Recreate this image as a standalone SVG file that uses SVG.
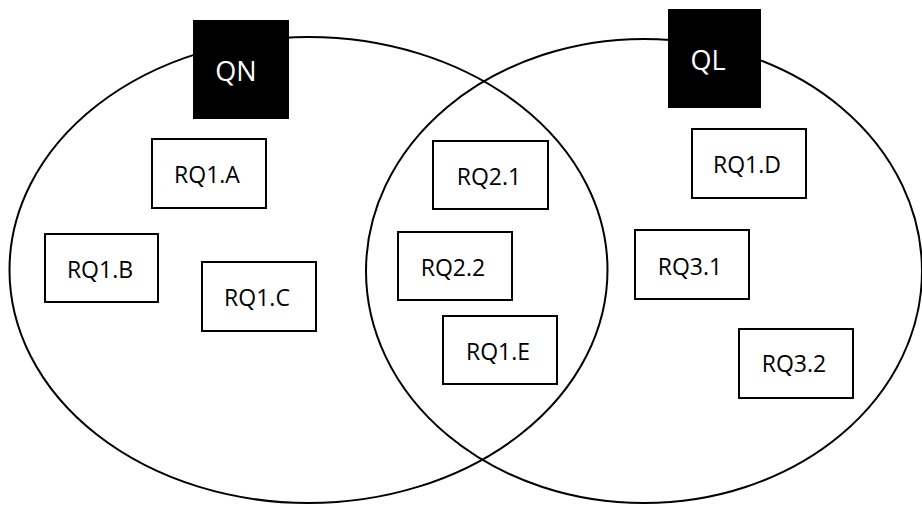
<svg xmlns="http://www.w3.org/2000/svg" width="922" height="505" viewBox="0 0 922 505">
<style>
.set{fill:none;stroke:#000;stroke-width:2}
.tag{fill:#000;stroke:none}
.tagt{fill:#fff;font-family:"Open Sans","Liberation Sans",sans-serif;font-size:27px;text-anchor:middle}
.box{fill:#fff;stroke:#000;stroke-width:2}
.lbl{fill:#000;font-family:"Open Sans","Liberation Sans",sans-serif;font-size:23px;text-anchor:middle}
</style>
<rect width="922" height="505" fill="#fff"/>
<g id="sets">
<ellipse id="set-qn" class="set" cx="308.5" cy="270" rx="299" ry="233"/>
<ellipse id="set-ql" class="set" cx="644" cy="271" rx="278" ry="232"/>
</g>
<g id="qn"><rect class="tag" x="193" y="20" width="96" height="99"/><text class="tagt" x="236" y="81">QN</text></g>
<g id="ql"><rect class="tag" x="668" y="9" width="93" height="99"/><text class="tagt" x="708" y="70">QL</text></g>
<g id="rq1a"><rect class="box" x="152" y="139" width="114" height="69"/><text class="lbl" x="207" y="183">RQ1.A</text></g>
<g id="rq1b"><rect class="box" x="45" y="234" width="113" height="68"/><text class="lbl" x="100" y="278">RQ1.B</text></g>
<g id="rq1c"><rect class="box" x="202" y="262" width="114" height="69"/><text class="lbl" x="257" y="306">RQ1.C</text></g>
<g id="rq21"><rect class="box" x="433" y="141" width="115" height="68"/><text class="lbl" x="489" y="185">RQ2.1</text></g>
<g id="rq22"><rect class="box" x="398" y="232" width="114" height="68"/><text class="lbl" x="453" y="276">RQ2.2</text></g>
<g id="rq1e"><rect class="box" x="443" y="316" width="114" height="68"/><text class="lbl" x="498" y="360">RQ1.E</text></g>
<g id="rq1d"><rect class="box" x="692" y="129" width="114" height="69"/><text class="lbl" x="747" y="173">RQ1.D</text></g>
<g id="rq31"><rect class="box" x="635" y="230" width="114" height="69"/><text class="lbl" x="690" y="275">RQ3.1</text></g>
<g id="rq32"><rect class="box" x="739" y="329" width="114" height="69"/><text class="lbl" x="794" y="372">RQ3.2</text></g>
<g id="connectors"/>
</svg>
